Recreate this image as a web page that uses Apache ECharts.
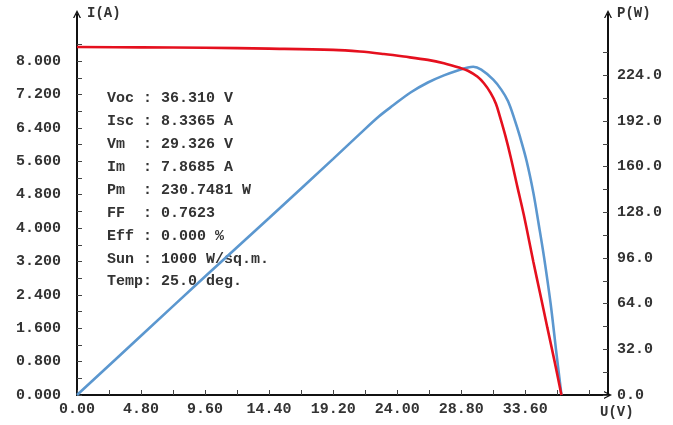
<!DOCTYPE html>
<html>
<head>
<meta charset="utf-8">
<script src="https://cdn.jsdelivr.net/npm/echarts@6/dist/echarts.min.js"></script>
<style>
html,body{margin:0;padding:0;background:#fff;}
#chart{width:673px;height:425px;}
</style>
</head>
<body>
<div id="chart"></div>
<script>
// I-V curve (red)
const voltsI = [0, 4.8, 9.6, 14.4, 19.2, 21.2, 23, 24.5, 26.3, 27.5, 28.7, 29.3, 30, 30.5, 31, 31.4, 31.7, 32.1, 32.5, 33, 33.5, 34.2, 34.7, 35.25, 35.8, 36.31];
const current = [8.34, 8.33, 8.32, 8.30, 8.27, 8.23, 8.17, 8.11, 8.03, 7.95, 7.84, 7.77, 7.63, 7.47, 7.24, 6.98, 6.67, 6.22, 5.71, 5.0, 4.3, 3.2, 2.45, 1.62, 0.8, 0];
// P-V curve (blue)
const voltsP = [0, 4.8, 9.6, 14.4, 19.2, 21.2, 22.6, 23.7, 25.0, 26.3, 27.5, 28.7, 29.3, 29.7, 30.3, 31.2, 31.8, 32.3, 32.8, 33.2, 33.7, 34.2, 34.6, 35.0, 35.5, 35.9, 36.31];
const power = [0, 41.5, 83, 124, 165.5, 183, 195, 203, 212, 219, 224, 228, 229.5, 230, 228, 221, 214, 206, 193, 181, 164, 142, 120, 97, 64, 32, 0];

// tick labels / tick positions
const xTickValues = [0, 2.4, 4.8, 7.2, 9.6, 12, 14.4, 16.8, 19.2, 21.6, 24, 26.4, 28.8, 31.2, 33.6, 36, 38.4];
const xLabelValues = [0, 4.8, 9.6, 14.4, 19.2, 24, 28.8, 33.6];
const iTickValues = [0, 0.4, 0.8, 1.2, 1.6, 2.0, 2.4, 2.8, 3.2, 3.6, 4.0, 4.4, 4.8, 5.2, 5.6, 6.0, 6.4, 6.8, 7.2, 7.6, 8.0, 8.4];
const iLabelValues = [0, 0.8, 1.6, 2.4, 3.2, 4.0, 4.8, 5.6, 6.4, 7.2, 8.0];
const pTickValues = [0, 16, 32, 48, 64, 80, 96, 112, 128, 144, 160, 176, 192, 208, 224, 240];
const pLabelValues = [0, 32, 64, 96, 128, 160, 192, 224];

// info block
const infoLabels = ['Voc', 'Isc', 'Vm', 'Im', 'Pm', 'FF', 'Eff', 'Sun', 'Temp'];
const infoValues = ['36.310 V', '8.3365 A', '29.326 V', '7.8685 A', '230.7481 W', '0.7623', '0.000 %', '1000 W/sq.m.', '25.0 deg.'];

const FONT = 'Liberation Mono';
const TXT = '#333';
const arrow = 'path://M0,10 L5,0 L10,10 L8.3,10 L5,3.4 L1.7,10 Z';

function pad(s, n) { while (s.length < n) s += ' '; return s; }

const chart = echarts.init(document.getElementById('chart'), null, {renderer: 'canvas'});

const infoGraphics = infoLabels.map((lab, i) => ({
  type: 'text',
  left: 107,
  top: 91 + i * 22.9,
  style: {
    text: pad(lab, 4) + ': ' + infoValues[i],
    font: 'bold 15px "' + FONT + '"',
    fill: TXT
  }
}));

const axisLineStyle = {color: '#111', width: 2};

chart.setOption({
  animation: false,
  backgroundColor: '#fff',
  grid: {left: 77, right: 65, top: 14, bottom: 30, containLabel: false},
  xAxis: {
    type: 'value', min: 0, max: 39.8,
    axisLine: {show: true, onZero: false, symbol: ['none', arrow], symbolSize: [12, 8], lineStyle: axisLineStyle},
    axisTick: {show: true, inside: true, length: 5, customValues: xTickValues, lineStyle: {color: '#444', width: 1}},
    axisLabel: {customValues: xLabelValues, formatter: v => v.toFixed(2), color: TXT, fontFamily: FONT, fontSize: 15, fontWeight: 'bold', margin: 7},
    splitLine: {show: false}
  },
  yAxis: [
    {
      type: 'value', min: 0, max: 9.13, position: 'left',
      axisLine: {show: true, onZero: false, symbol: ['none', arrow], symbolSize: [12, 8], lineStyle: axisLineStyle},
      axisTick: {show: true, inside: true, length: 5, customValues: iTickValues, lineStyle: {color: '#444', width: 1}},
      axisLabel: {customValues: iLabelValues, formatter: v => v.toFixed(3), color: TXT, fontFamily: FONT, fontSize: 15, fontWeight: 'bold', margin: 16},
      splitLine: {show: false}
    },
    {
      type: 'value', min: 0, max: 267, position: 'right',
      axisLine: {show: true, onZero: false, symbol: ['none', arrow], symbolSize: [12, 8], lineStyle: axisLineStyle},
      axisTick: {show: true, inside: true, length: 5, customValues: pTickValues, lineStyle: {color: '#444', width: 1}},
      axisLabel: {customValues: pLabelValues, formatter: v => v.toFixed(1), color: TXT, fontFamily: FONT, fontSize: 15, fontWeight: 'bold', margin: 9},
      splitLine: {show: false}
    }
  ],
  graphic: [
    {type: 'text', left: 87, top: 6, style: {text: 'I(A)', font: 'bold 14px "' + FONT + '"', fill: TXT}},
    {type: 'text', left: 617, top: 6, style: {text: 'P(W)', font: 'bold 14px "' + FONT + '"', fill: TXT}},
    {type: 'text', left: 600, top: 405, style: {text: 'U(V)', font: 'bold 14px "' + FONT + '"', fill: TXT}}
  ].concat(infoGraphics),
  series: [
    {
      name: 'P', type: 'line', yAxisIndex: 1, smooth: 0.35, showSymbol: false,
      lineStyle: {color: '#5b97cf', width: 2.6},
      data: voltsP.map((v, i) => [v, power[i]])
    },
    {
      name: 'I', type: 'line', yAxisIndex: 0, smooth: 0.35, showSymbol: false,
      lineStyle: {color: '#e5101e', width: 2.6},
      data: voltsI.map((v, i) => [v, current[i]])
    }
  ]
});
</script>
</body>
</html>
